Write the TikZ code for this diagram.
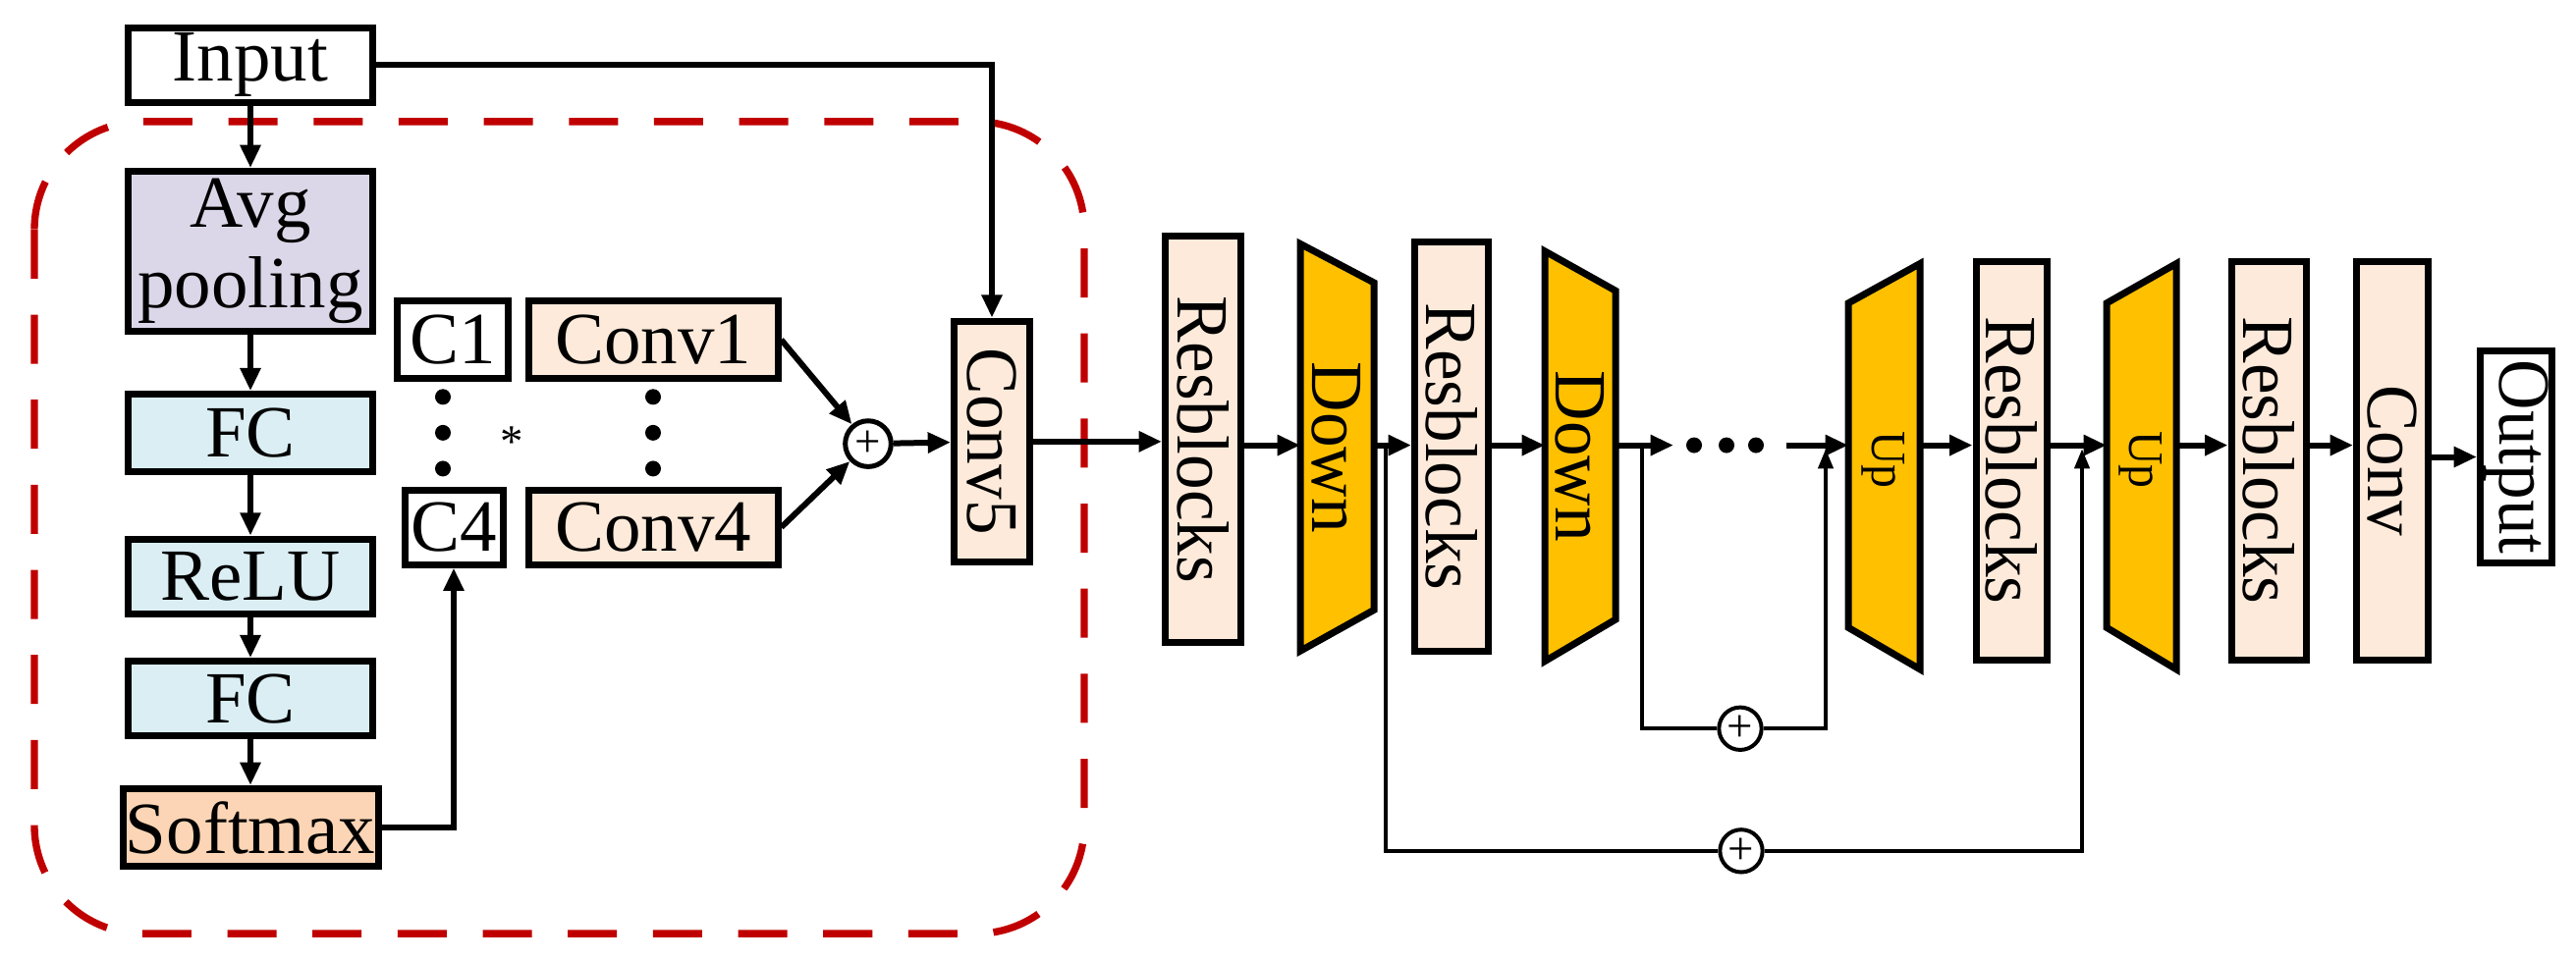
\documentclass[tikz,border=0pt]{standalone}
\usepackage{fontspec}
\setmainfont{Liberation Serif}
\newfontfamily\vfont{Liberation Serif}[FakeStretch=0.95]
\usetikzlibrary{arrows.meta}
\definecolor{purp}{HTML}{DCD7E8}
\definecolor{lblue}{HTML}{DAEEF3}
\definecolor{salmon}{HTML}{FBD5B5}
\definecolor{peach}{HTML}{FDEADA}
\definecolor{gold}{HTML}{FFC000}
\definecolor{dred}{HTML}{C00000}
\newcommand\vtext[1]{\rotatebox[origin=c]{-90}{\vfont #1}}
\begin{document}
\begin{tikzpicture}[x=0.3mm,y=-0.2238mm,
  box/.style={draw,line width=2.1mm,inner sep=0pt,font=\fontsize{64}{70}\selectfont},
  arr/.style={line width=1.8mm,-{Triangle[length=7mm,width=6mm]}},
  sk/.style={line width=1.2mm},
  skarr/.style={line width=1.2mm,-{Triangle[length=6mm,width=4.5mm]}},
  plus/.style={draw,circle,line width=1.5mm,minimum size=14mm,inner sep=0pt,font=\fontsize{40}{40}\selectfont},
  trap/.style={draw,line width=2.1mm,fill=gold,line join=miter}]
\useasboundingbox (0,0) rectangle (2623,1311);
\draw[dred,line width=2.2mm,dash pattern=on 15mm off 11mm,rounded corners=33mm] (35,166) rectangle (1104,1275);
% left column
\node[box,minimum width=74.7mm,minimum height=22.8mm] (inp) at (255,89) {Input};
\node[box,fill=purp,minimum width=74.7mm,minimum height=48.8mm,align=center] (avg) at (255,343) {Avg\\pooling};
\node[box,fill=lblue,minimum width=74.7mm,minimum height=23.5mm] (fc1) at (255,591) {FC};
\node[box,fill=lblue,minimum width=74.7mm,minimum height=22.8mm] (relu) at (255,787) {ReLU};
\node[box,fill=lblue,minimum width=74.7mm,minimum height=22.8mm] (fc2) at (255,954) {FC};
\node[box,fill=salmon,minimum width=78mm,minimum height=23.7mm] (soft) at (255,1130) {Softmax};
\node[box,minimum width=33.9mm,minimum height=23.5mm] (c1) at (461,464) {C1};
\node[box,minimum width=30mm,minimum height=22.8mm] (c4) at (462,720) {C4};
\node[box,fill=peach,minimum width=76.2mm,minimum height=23.5mm] (cv1) at (665,464) {Conv1};
\node[box,fill=peach,minimum width=76.2mm,minimum height=22.8mm] (cv4) at (665,720) {Conv4};
\foreach \y in {542,591,640}{\fill (451,\y) circle (2.4mm); \fill (665,\y) circle (2.4mm);}
\node[font=\fontsize{40}{40}\selectfont] (star) at (521,604) {*};
\node[plus] (p0) at (884,606) {+};
\node[box,fill=peach,minimum width=23.1mm,minimum height=73.6mm] (cv5) at (1010,603) {\vtext{Conv5}};
\draw[arr] (inp) -- (avg);
\draw[arr] (avg) -- (fc1);
\draw[arr] (fc1) -- (relu);
\draw[arr] (relu) -- (fc2);
\draw[arr] (fc2) -- (soft);
\draw[arr] (soft.east) -| (c4.south);
\draw[arr] (cv1.east) -- (p0);
\draw[arr] (cv4.east) -- (p0);
\draw[arr] (p0) -- (cv5);
\draw[arr] (inp.east) -| (cv5.north);
% right part
\node[box,fill=peach,minimum width=23.1mm,minimum height=124.4mm] (r1) at (1225,600) {\vtext{Resblocks}};
\node[box,fill=peach,minimum width=22.5mm,minimum height=125.1mm] (r2) at (1478,610) {\vtext{Resblocks}};
\node[box,fill=peach,minimum width=21.6mm,minimum height=121.7mm] (r3) at (2048,629) {\vtext{Resblocks}};
\node[box,fill=peach,minimum width=22.8mm,minimum height=121.7mm] (r4) at (2310,629) {\vtext{Resblocks}};
\node[box,fill=peach,minimum width=21.9mm,minimum height=121.7mm] (cv6) at (2436,629) {\vtext{Conv}};
\node[box,minimum width=21.9mm,minimum height=64.9mm] (out) at (2562,624) {\vtext{Output}};
\draw[trap] (1324,333) -- (1399,386) -- (1399,833) -- (1324,889) -- cycle;
\draw[trap] (1573,343) -- (1645,397) -- (1645,846) -- (1573,903) -- cycle;
\draw[trap] (1882,414) -- (1955,360) -- (1955,914) -- (1882,857) -- cycle;
\draw[trap] (2145,414) -- (2216,360) -- (2216,914) -- (2145,857) -- cycle;
\node[font=\fontsize{64}{70}\selectfont] (d1) at (1361,611) {\vtext{Down}};
\node[font=\fontsize{64}{70}\selectfont] (d2) at (1609,623) {\vtext{Down}};
\node[font=\fontsize{43}{46}\selectfont] (u1) at (1918,628) {\vtext{Up}};
\node[font=\fontsize{43}{46}\selectfont] (u2) at (2180,628) {\vtext{Up}};
\coordinate (d1w) at (1324,608); \coordinate (d1e) at (1399,608);
\coordinate (d2w) at (1573,608); \coordinate (d2e) at (1645,608);
\coordinate (u1w) at (1882,608); \coordinate (u1e) at (1955,608);
\coordinate (u2w) at (2145,608); \coordinate (u2e) at (2216,608);
\coordinate (dA) at (1704,608); \coordinate (dB) at (1819,608);
\foreach \x in {1725,1758,1788}{\fill (\x,608) circle (2.4mm);}
\draw[arr] (cv5.east) -- (r1.west |- cv5.east);
\draw[arr] (r1.east |- d1w) -- (d1w);
\draw[arr] (d1e) -- (r2.west |- d1e);
\draw[arr] (r2.east |- d2w) -- (d2w);
\draw[arr] (d2e) -- (dA);
\draw[arr] (dB) -- (u1w);
\draw[arr] (u1e) -- (r3.west |- u1e);
\draw[arr] (r3.east |- u2w) -- (u2w);
\draw[arr] (u2e) -- (r4.west |- u2e);
\draw[arr] (r4.east |- u2e) -- (cv6.west |- u2e);
\draw[arr] (cv6.east |- out.west) -- (out.west);
% skips
\node[plus,line width=1.2mm,minimum size=13mm,fill=white] (pa) at (1772,995) {+};
\node[plus,line width=1.2mm,minimum size=13mm,fill=white] (pb) at (1773,1162) {+};
\coordinate (sa) at (1672,608); \coordinate (ta) at (1859,613);
\coordinate (sb) at (1411,608); \coordinate (tb) at (2120,613);
\draw[sk] (sa) |- (pa.west);
\draw[skarr] (pa.east) -| (ta);
\draw[sk] (sb) |- (pb.west);
\draw[skarr] (pb.east) -| (tb);
\end{tikzpicture}
\end{document}
